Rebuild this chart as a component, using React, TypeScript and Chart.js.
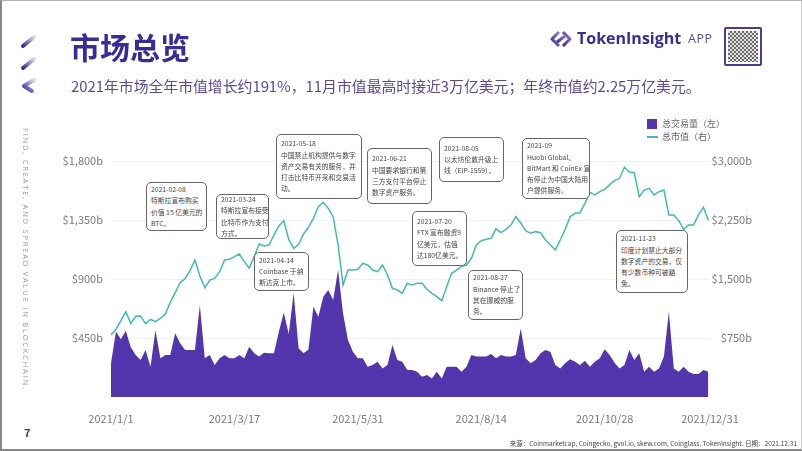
import React, { useEffect, useRef } from 'react';
import { Chart, registerables } from 'chart.js';

Chart.register(...registerables);

// ---------- DATA ----------
// One sample every 3 days from 2021-01-01 (day 0) to 2021-12-30 (day 363)
const marketCap = [
  788, 860, 970, 1085, 936, 1026, 1030, 932, 987, 957,
  1000, 1055, 1199, 1326, 1453, 1504, 1606, 1741, 1538, 1390,
  1487, 1508, 1593, 1741, 1750, 1784, 1818, 1720, 1636, 1784,
  1945, 1920, 1932, 2059, 2174, 2241, 2004, 1890, 1940, 2072,
  2157, 2271, 2419, 2475, 2398, 2292, 1932, 1424, 1614, 1614,
  1623, 1699, 1678, 1614, 1593, 1678, 1551, 1381, 1360, 1318,
  1445, 1424, 1445, 1445, 1369, 1318, 1275, 1225, 1403, 1572,
  1614, 1657, 1678, 1763, 1932, 1987, 2004, 2017, 2136, 2089,
  2131, 2186, 2292, 2212, 2114, 2081, 2102, 2089, 1996, 1932,
  1869, 1996, 2131, 2292, 2335, 2343, 2462, 2602, 2568, 2610,
  2640, 2699, 2750, 2780, 2920, 2860, 2852, 2547, 2631, 2653,
  2568, 2610, 2631, 2314, 2314, 2242, 2131, 2186, 2186, 2314,
  2411, 2250,
];

const volume = [
  260, 500, 440, 505, 380, 320, 282, 358, 231, 510,
  295, 320, 320, 486, 410, 358, 358, 358, 700, 295,
  320, 244, 295, 320, 295, 295, 320, 295, 384, 333,
  308, 338, 333, 333, 498, 645, 480, 793, 371, 333,
  362, 689, 613, 765, 816, 740, 969, 638, 435, 346,
  295, 295, 231, 244, 269, 218, 244, 396, 282, 269,
  206, 206, 193, 155, 168, 142, 193, 142, 231, 231,
  231, 193, 231, 320, 308, 308, 308, 328, 295, 320,
  308, 308, 320, 523, 295, 257, 282, 333, 358, 346,
  244, 218, 257, 287, 269, 244, 277, 231, 269, 295,
  364, 320, 262, 218, 244, 358, 282, 333, 193, 231,
  193, 218, 308, 651, 218, 193, 231, 193, 175, 175,
  206, 193,
];

const SAMPLE_STEP = 3;
const sampleDays = volume.map((_, i) => i * SAMPLE_STEP);

const xTickDays = [0, 75, 150, 225, 300, 364];
const xTickLabels = ['2021/1/1', '2021/3/17', '2021/5/31', '2021/8/14', '2021/10/28', '2021/12/31'];

const leftTickValues = [450, 900, 1350, 1800];
const leftTickLabels = ['$450b', '$900b', '$1,350b', '$1,800b'];
const rightTickValues = [750, 1500, 2250, 3000];
const rightTickLabels = ['$750b', '$1,500b', '$2,250b', '$3,000b'];

const seriesNames = ['总交易量（左）', '总市值（右）'];

const annotationTexts = [
  ['2021-02-08', '特斯拉宣布购买', '价值 15 亿美元的', 'BTC。'],
  ['2021-03-24', '特斯拉宣布接受', '比特币作为支付', '方式。'],
  ['2021-04-14', 'Coinbase 于纳', '斯达克上市。'],
  ['2021-05-18', '中国禁止机构提供与数字', '资产交易有关的服务，并', '打击比特币开采和交易活', '动。'],
  ['2021-06-21', '中国要求银行和第', '三方支付平台停止', '数字资产服务。'],
  ['2021-07-20', 'FTX 宣布融资9', '亿美元，估值', '达180亿美元。'],
  ['2021-08-05', '以太坊伦敦升级上', '线（EIP-1559）。'],
  ['2021-08-27', 'Binance 停止了', '其在挪威的服', '务。'],
  ['2021-09', 'Huobi Global、', 'BitMart 和 CoinEx 宣', '布停止为中国大陆用', '户提供服务。'],
  ['2021-11-23', '印度计划禁止大部分', '数字资产的交易，仅', '有少数币种可被豁', '免。'],
];

// ---------- LAYOUT (positions of overlay boxes) ----------
const annotationBoxes = [
  { left: 146, top: 182, width: 61, height: 49 },
  { left: 216, top: 194, width: 53, height: 45 },
  { left: 254, top: 252, width: 55, height: 39 },
  { left: 276, top: 134, width: 86, height: 65 },
  { left: 367, top: 148, width: 65, height: 56 },
  { left: 412, top: 211, width: 55, height: 55 },
  { left: 439, top: 137, width: 65, height: 45 },
  { left: 468, top: 270, width: 55, height: 50 },
  { left: 522, top: 138, width: 68, height: 61 },
  { left: 616, top: 230, width: 72, height: 63 },
];

const FONT = "'Noto Sans CJK SC', 'Noto Sans', sans-serif";
const PURPLE = '#5336ae';
const TEAL = '#3fbcb2';
const TITLE = '#3a2b9c';

function ChartCanvas() {
  const ref = useRef<HTMLCanvasElement | null>(null);
  useEffect(() => {
    if (!ref.current) return;
    const tickFont = { family: FONT, size: 11 };
    const chart = new Chart(ref.current, {
      type: 'line',
      data: {
        datasets: [
          {
            label: seriesNames[1],
            data: sampleDays.map((d, i) => ({ x: d, y: marketCap[i] })),
            borderColor: TEAL,
            borderWidth: 1.5,
            pointRadius: 0,
            fill: false,
            tension: 0,
            yAxisID: 'y1',
            order: 0,
          },
          {
            label: seriesNames[0],
            data: sampleDays.map((d, i) => ({ x: d, y: volume[i] })),
            borderColor: PURPLE,
            backgroundColor: PURPLE,
            borderWidth: 0,
            pointRadius: 0,
            fill: 'origin',
            tension: 0,
            yAxisID: 'y',
            order: 1,
          },
        ],
      },
      options: {
        responsive: false,
        maintainAspectRatio: false,
        animation: false,
        events: [],
        layout: { padding: { left: 0, right: 50, top: 102, bottom: 24 } },
        plugins: { legend: { display: false }, tooltip: { enabled: false } },
        scales: {
          x: {
            type: 'linear',
            min: 0,
            max: 364,
            grid: { display: false },
            border: { display: false },
            afterBuildTicks: (s: any) => {
              s.ticks = xTickDays.map((v) => ({ value: v }));
            },
            afterFit: (s: any) => {
              s.height = 30;
            },
            ticks: {
              autoSkip: false,
              maxRotation: 0,
              padding: 7,
              color: '#7a7a7a',
              font: tickFont,
              callback: (v: any) => xTickLabels[xTickDays.indexOf(Number(v))],
            },
          },
          y: {
            position: 'left',
            min: 0,
            max: 2250,
            grid: { color: '#f1f1f1', drawTicks: false, lineWidth: 1 },
            border: { display: false },
            afterBuildTicks: (s: any) => {
              s.ticks = leftTickValues.map((v) => ({ value: v }));
            },
            afterFit: (s: any) => {
              s.width = 111;
            },
            ticks: {
              padding: 8,
              color: '#7a7a7a',
              font: tickFont,
              callback: (v: any) => leftTickLabels[leftTickValues.indexOf(Number(v))],
            },
          },
          y1: {
            position: 'right',
            min: 0,
            max: 3750,
            grid: { display: false, drawTicks: false },
            border: { display: false },
            afterBuildTicks: (s: any) => {
              s.ticks = rightTickValues.map((v) => ({ value: v }));
            },
            afterFit: (s: any) => {
              s.width = 42;
            },
            ticks: {
              crossAlign: 'far',
              padding: 0,
              color: '#7a7a7a',
              font: tickFont,
              callback: (v: any) => rightTickLabels[rightTickValues.indexOf(Number(v))],
            },
          },
        },
      },
    } as any);
    return () => chart.destroy();
  }, []);
  return (
    <canvas
      ref={ref}
      width={802}
      height={451}
      style={{ position: 'absolute', left: 0, top: 0, width: 802, height: 451 }}
    />
  );
}

function Chevrons() {
  return (
    <svg style={{ position: 'absolute', left: 18, top: 32 }} width={22} height={64}>
      <defs>
        <linearGradient id="chev" x1="0" y1="1" x2="1" y2="0">
          <stop offset="0" stopColor="#3a2b9c" />
          <stop offset="1" stopColor="#dcd6f2" />
        </linearGradient>
      </defs>
      <line x1={5} y1={14} x2={16} y2={5} stroke="url(#chev)" strokeWidth={4} strokeLinecap="round" />
      <line x1={5} y1={36} x2={16} y2={27} stroke="url(#chev)" strokeWidth={4} strokeLinecap="round" />
      <polyline points="16,48 6,54 14,59" fill="none" stroke="url(#chev)" strokeWidth={4} strokeLinecap="round" strokeLinejoin="round" />
    </svg>
  );
}

function Logo() {
  return (
    <>
      <svg style={{ position: 'absolute', left: 549, top: 30 }} width={26} height={18}>
        <defs>
          <linearGradient id="logo" x1="0" y1="1" x2="1" y2="0">
            <stop offset="0" stopColor="#3a2b9c" />
            <stop offset="1" stopColor="#8d7fd0" />
          </linearGradient>
        </defs>
        <polyline points="10,2 3,9 10,16" fill="none" stroke="url(#logo)" strokeWidth={3} strokeLinejoin="round" />
        <polyline points="14,2 21,9 14,16" fill="none" stroke="url(#logo)" strokeWidth={3} strokeLinejoin="round" />
        <line x1={8} y1={12} x2={16} y2={6} stroke="url(#logo)" strokeWidth={3} />
      </svg>
      <div
        style={{
          position: 'absolute',
          left: 577,
          top: 29,
          fontFamily: "'Open Sans', sans-serif",
          fontWeight: 700,
          fontSize: 16,
          lineHeight: '19px',
          color: TITLE,
          whiteSpace: 'nowrap',
        }}
      >
        TokenInsight
      </div>
      <div
        style={{
          position: 'absolute',
          left: 688,
          top: 31,
          fontFamily: "'Open Sans', sans-serif",
          fontSize: 12.5,
          lineHeight: '16px',
          color: '#5a48a8',
          letterSpacing: 0.5,
          whiteSpace: 'nowrap',
        }}
      >
        APP
      </div>
      <div
        style={{
          position: 'absolute',
          left: 724,
          top: 27,
          width: 38,
          height: 39,
          boxSizing: 'border-box',
          border: '2px solid #4b3b9f',
          borderRadius: 2,
          background: '#fff',
          padding: 2,
        }}
      >
        <div
          style={{
            width: '100%',
            height: '100%',
            background: 'repeating-conic-gradient(#6a6a6a 0 25%, #e2e2e2 0 50%) 0 0 / 4px 4px',
          }}
        />
      </div>
    </>
  );
}

export default function App() {
  return (
    <div
      style={{
        position: 'fixed',
        left: 0,
        top: 0,
        width: 802,
        height: 451,
        background: '#fff',
        overflow: 'hidden',
        fontFamily: FONT,
      }}
    >
      <ChartCanvas />
      <Chevrons />
      <div
        style={{
          position: 'absolute',
          left: 70,
          top: 28,
          fontSize: 30,
          lineHeight: '36px',
          fontWeight: 700,
          color: TITLE,
          whiteSpace: 'nowrap',
        }}
      >
        市场总览
      </div>
      <div
        style={{
          position: 'absolute',
          left: 71,
          top: 77,
          fontSize: 14.85,
          lineHeight: '18px',
          color: '#5a48a8',
          whiteSpace: 'nowrap',
        }}
      >
        2021年市场全年市值增长约191%，11月市值最高时接近3万亿美元；年终市值约2.25万亿美元。
      </div>
      <Logo />
      {/* legend */}
      <div style={{ position: 'absolute', left: 647, top: 119, width: 10, height: 10, background: PURPLE }} />
      <div style={{ position: 'absolute', left: 647, top: 136, width: 11, height: 1.6, background: TEAL }} />
      <div style={{ position: 'absolute', left: 662, top: 117, fontSize: 9, lineHeight: '13px', color: '#666', whiteSpace: 'nowrap' }}>
        {seriesNames[0]}
      </div>
      <div style={{ position: 'absolute', left: 662, top: 130, fontSize: 9, lineHeight: '13px', color: '#666', whiteSpace: 'nowrap' }}>
        {seriesNames[1]}
      </div>
      {/* annotations */}
      {annotationTexts.map((lines, i) => {
        const b = annotationBoxes[i];
        return (
          <div
            key={i}
            style={{
              position: 'absolute',
              left: b.left,
              top: b.top,
              width: b.width,
              height: b.height,
              boxSizing: 'border-box',
              border: '1px solid #666',
              borderRadius: 5,
              background: '#fff',
              padding: '0 2px 0 4px',
              display: 'flex',
              flexDirection: 'column',
              justifyContent: 'center',
              fontSize: 6.8,
              lineHeight: '11.3px',
              color: '#444',
              whiteSpace: 'nowrap',
            }}
          >
            {lines.map((t, j) => (
              <div key={j}>{t}</div>
            ))}
          </div>
        );
      })}
      {/* side tagline */}
      <div
        style={{
          position: 'absolute',
          left: 30,
          top: 128,
          transform: 'rotate(90deg)',
          transformOrigin: 'left top',
          fontFamily: "'Open Sans', sans-serif",
          fontSize: 7.5,
          lineHeight: '9px',
          letterSpacing: 1.8,
          color: '#9a9a9a',
          whiteSpace: 'nowrap',
        }}
      >
        FIND, CREATE, AND SPREAD VALUE IN BLOCKCHAIN.
      </div>
      <div
        style={{
          position: 'absolute',
          left: 24,
          top: 425,
          fontSize: 11,
          lineHeight: '14px',
          fontWeight: 700,
          color: TITLE,
        }}
      >
        7
      </div>
      <div
        style={{
          position: 'absolute',
          right: 5,
          top: 438,
          fontSize: 6.5,
          lineHeight: '10px',
          color: '#444',
          whiteSpace: 'nowrap',
        }}
      >
        来源：Coinmarketcap, Coingecko, gvol.io, skew.com, Coinglass, TokenInsight. 日期：2021.12.31
      </div>
      {/* slide frame */}
      <div
        style={{
          position: 'absolute',
          left: 0,
          top: 0,
          width: 802,
          height: 451,
          boxSizing: 'border-box',
          borderTop: '1px solid #b0b0b0',
          borderRight: '1px solid #c8c8c8',
          borderLeft: '2px solid #888',
          borderBottom: '2px solid #888',
          pointerEvents: 'none',
        }}
      />
    </div>
  );
}
